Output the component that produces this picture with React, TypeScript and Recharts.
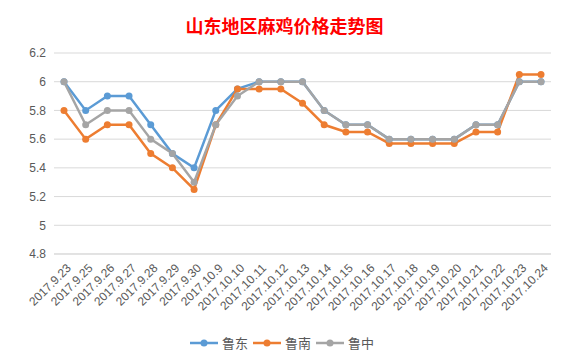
import { LineChart, Line, XAxis, YAxis, CartesianGrid } from 'recharts';

const dates = [
  '2017.9.23', '2017.9.25', '2017.9.26', '2017.9.27', '2017.9.28', '2017.9.29', '2017.9.30',
  '2017.10.9', '2017.10.10', '2017.10.11', '2017.10.12', '2017.10.13', '2017.10.14',
  '2017.10.15', '2017.10.16', '2017.10.17', '2017.10.18', '2017.10.19', '2017.10.20',
  '2017.10.21', '2017.10.22', '2017.10.23', '2017.10.24',
];

const ludong = [6.0, 5.8, 5.9, 5.9, 5.7, 5.5, 5.4, 5.8, 5.95, 6.0, 6.0, 6.0, 5.8, 5.7, 5.7, 5.6, 5.6, 5.6, 5.6, 5.7, 5.7, 6.0, 6.0];
const lunan = [5.8, 5.6, 5.7, 5.7, 5.5, 5.4, 5.25, 5.7, 5.95, 5.95, 5.95, 5.85, 5.7, 5.65, 5.65, 5.57, 5.57, 5.57, 5.57, 5.65, 5.65, 6.05, 6.05];
const luzhong = [6.0, 5.7, 5.8, 5.8, 5.6, 5.5, 5.3, 5.7, 5.9, 6.0, 6.0, 6.0, 5.8, 5.7, 5.7, 5.6, 5.6, 5.6, 5.6, 5.7, 5.7, 6.0, 6.0];

const yTicks = [4.8, 5, 5.2, 5.4, 5.6, 5.8, 6, 6.2];

const SERIES = [
  { key: '鲁东', color: '#5B9BD5' },
  { key: '鲁南', color: '#ED7D31' },
  { key: '鲁中', color: '#A5A5A5' },
];

const data = dates.map((d, i) => ({
  date: d,
  鲁东: ludong[i],
  鲁南: lunan[i],
  鲁中: luzhong[i],
}));

const FONT = '"Liberation Sans", "Noto Sans CJK SC", sans-serif';

function DateTick({ x, y, payload }: any) {
  return (
    <g transform={`translate(${x + 5},${y + 4})`}>
      <text x={0} y={0} dy={4} textAnchor="end" transform="rotate(-45)" fontSize={12} fill="#595959" fontFamily={FONT}>
        {payload.value}
      </text>
    </g>
  );
}

function LegendBox() {
  return (
    <div style={{ position: 'absolute', left: 0, top: 333, width: 569, display: 'flex', justifyContent: 'center', alignItems: 'center', fontFamily: FONT, fontSize: 13, color: '#595959' }}>
      {SERIES.map((s) => (
        <div key={s.key} style={{ display: 'flex', alignItems: 'center', marginRight: 5 }}>
          <svg width={28} height={10}>
            <line x1={0} y1={5} x2={28} y2={5} stroke={s.color} strokeWidth={2.5} />
            <circle cx={14} cy={5} r={3.5} fill={s.color} />
          </svg>
          <span style={{ marginLeft: 4 }}>{s.key}</span>
        </div>
      ))}
    </div>
  );
}

export default function App() {
  return (
    <div style={{ position: 'relative', margin: -8, width: 569, height: 364, background: '#fff' }}>
      <div style={{ position: 'absolute', left: 3, top: 2, width: 560, height: 357, border: '1px solid #D9D9D9' }} />
      <div style={{ position: 'absolute', left: 0, top: 12, width: 569, textAlign: 'center', color: '#FF0000', fontWeight: 'bold', fontSize: 18, fontFamily: '"Noto Sans CJK SC", sans-serif' }}>
        山东地区麻鸡价格走势图
      </div>
      <div style={{ position: 'absolute', left: 0, top: 0 }}>
        <LineChart width={569} height={364} data={data} margin={{ top: 53, right: 18, bottom: 40, left: 8 }}>
          <CartesianGrid vertical={false} stroke="#D9D9D9" />
          <XAxis
            dataKey="date"
            interval={0}
            tick={<DateTick />}
            tickLine={false}
            axisLine={{ stroke: '#D9D9D9' }}
            height={70}
            padding={{ left: 10, right: 10 }}
          />
          <YAxis
            domain={[4.8, 6.2]}
            ticks={yTicks}
            width={46}
            axisLine={false}
            tickLine={false}
            tick={{ fontSize: 12, fill: '#595959', fontFamily: FONT }}
          />
          {SERIES.map((s) => (
            <Line
              key={s.key}
              type="linear"
              dataKey={s.key}
              stroke={s.color}
              strokeWidth={2.5}
              dot={{ r: 3.5, fill: s.color, stroke: s.color, strokeWidth: 0 }}
              isAnimationActive={false}
            />
          ))}
        </LineChart>
      </div>
      <LegendBox />
    </div>
  );
}
